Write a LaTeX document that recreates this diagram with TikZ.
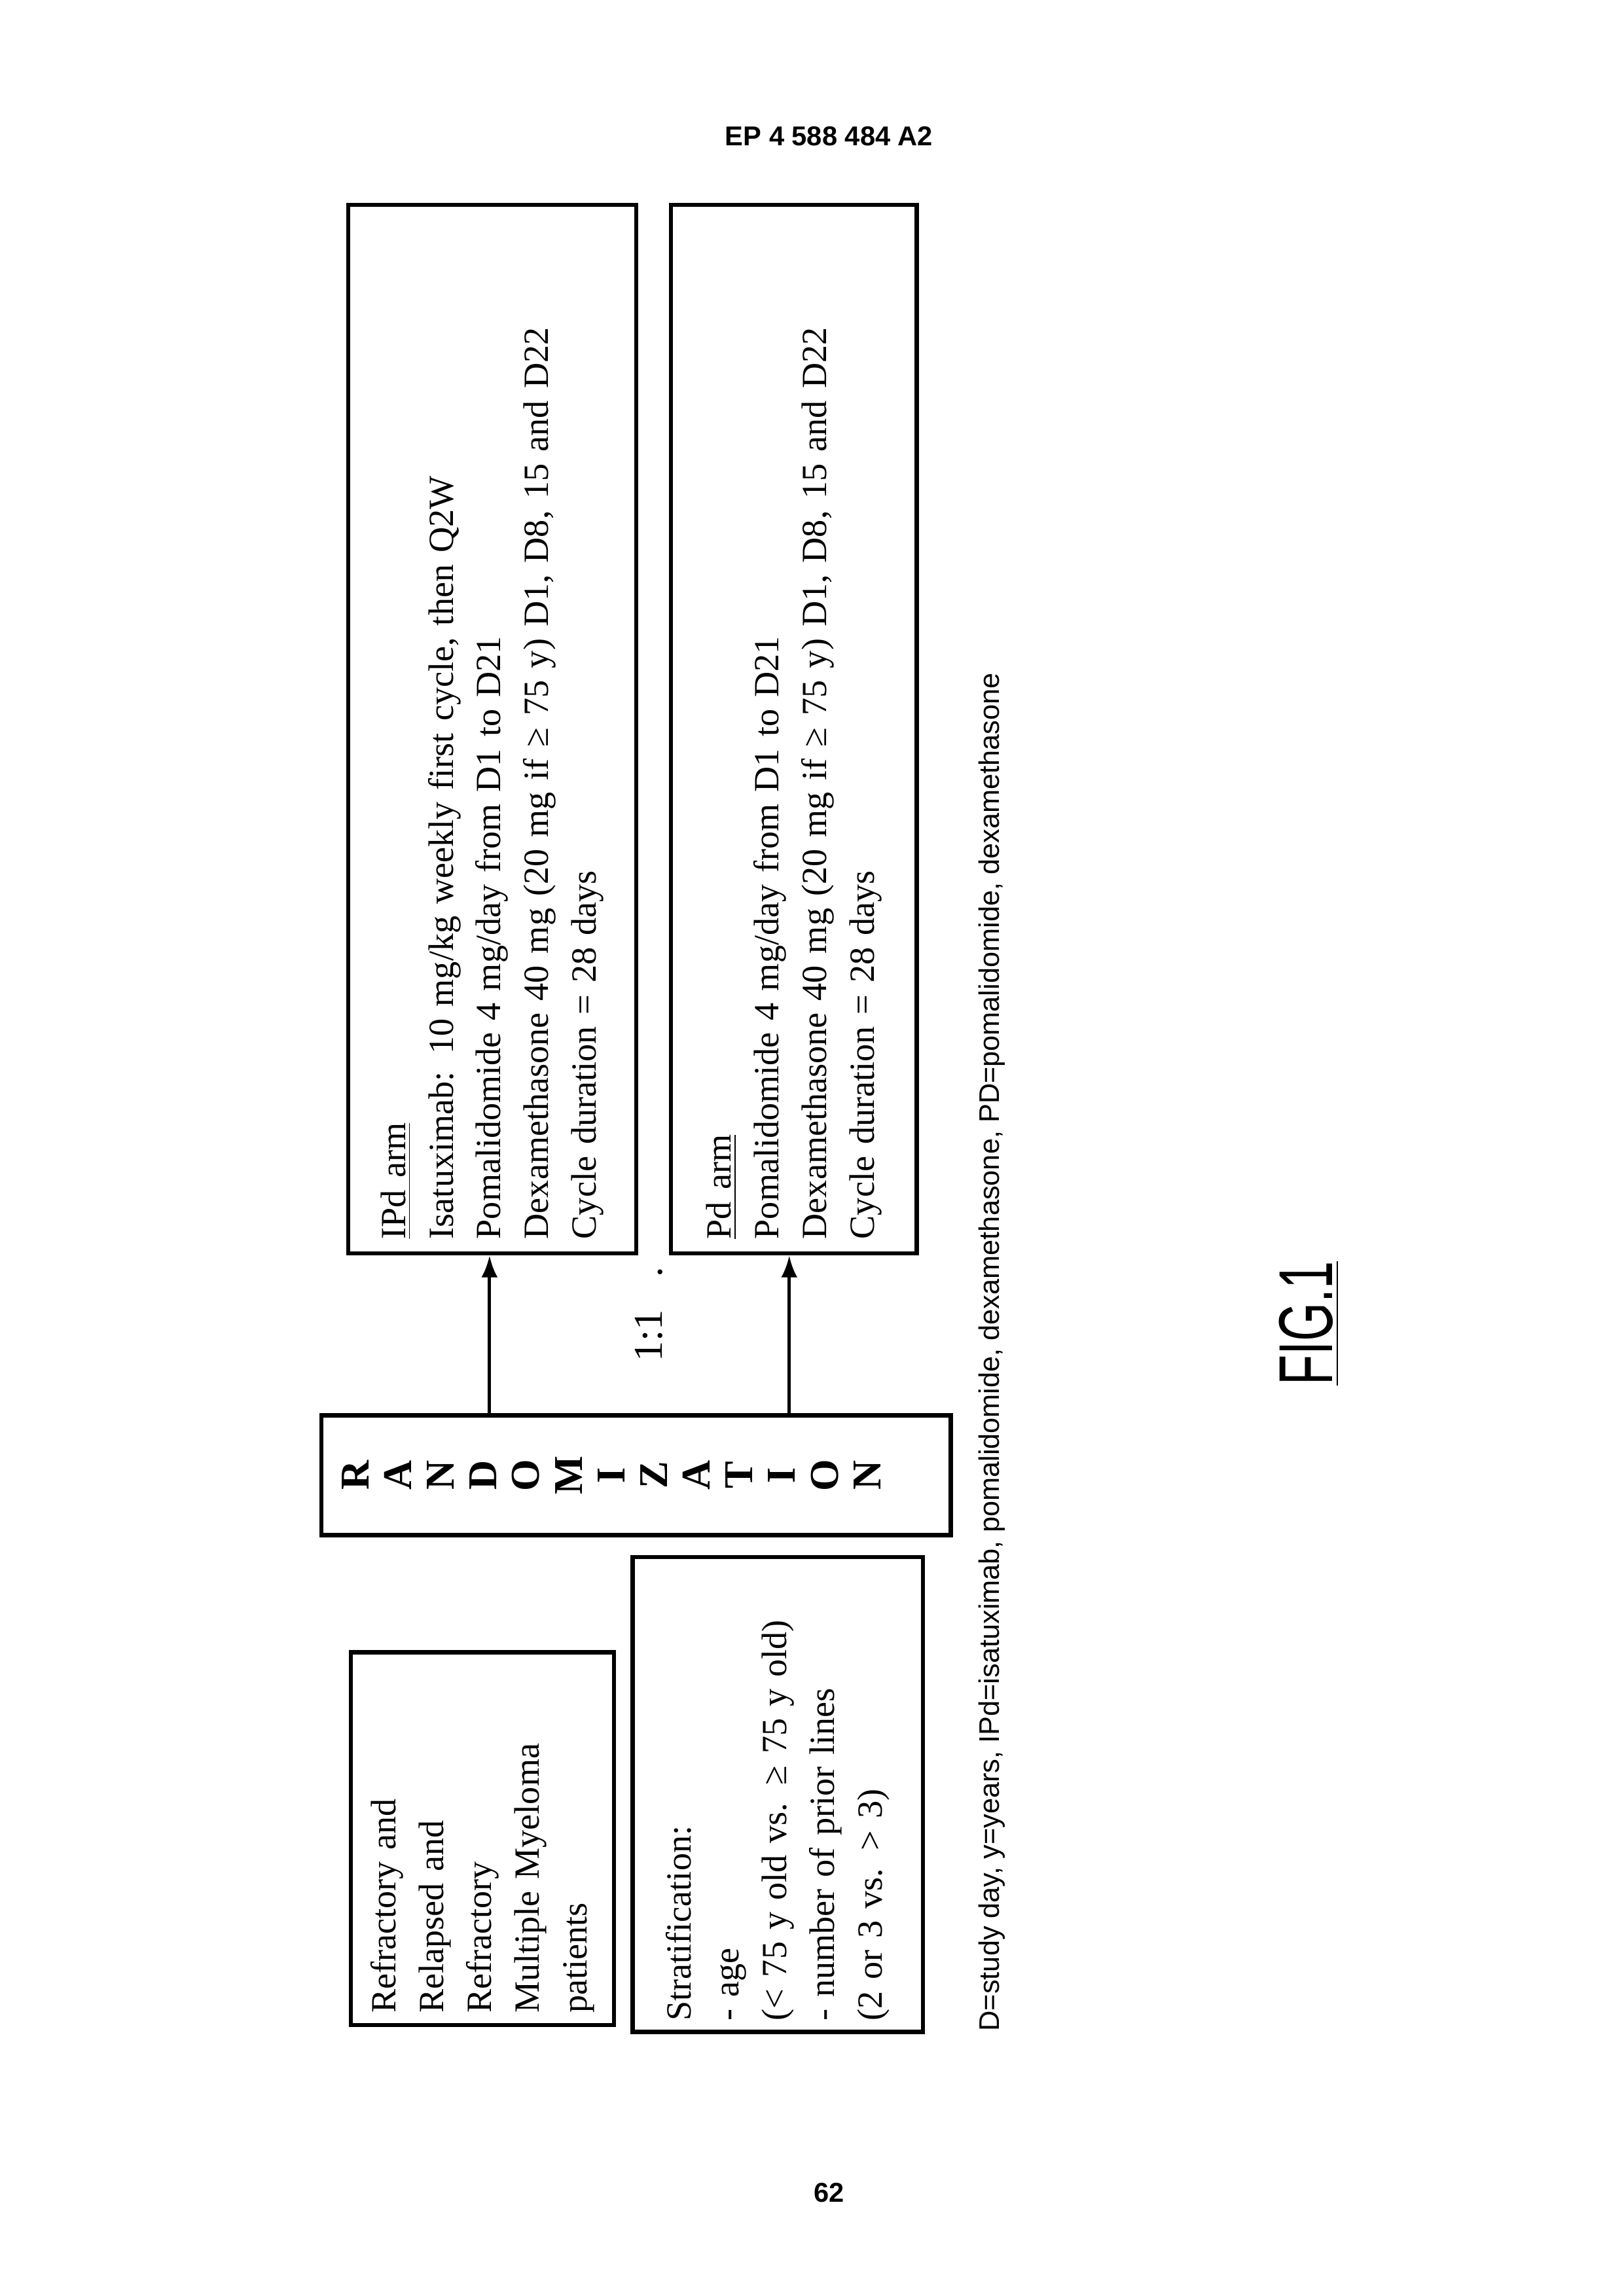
\documentclass[tikz,border=0pt]{standalone}
\usepackage{fontspec}
\usetikzlibrary{arrows.meta}
\setmainfont{Liberation Serif}
\newfontfamily\arialf{Liberation Sans}
\begin{document}
\begin{tikzpicture}[x=1pt,y=-1pt,
  rbox/.style={draw,line width=1.6pt,rotate=90,align=left,inner sep=0pt,font=\fontsize{13}{17.5}\selectfont},
  arr/.style={-{Latex[length=8pt,width=6pt]},line width=1.2pt}]
\useasboundingbox (0,0) rectangle (595.3,842);
\node[font=\arialf\bfseries\fontsize{10}{12}\selectfont] (hdr) at (304,50) {EP 4 588 484 A2};
\node[font=\arialf\bfseries\fontsize{10}{12}\selectfont] (pg) at (304,804) {62};
\node[rbox,minimum width=384.5pt,minimum height=105.6pt,text width=374pt] (ipd) at (180.5,267.4)
{\underline{IPd arm}\\
Isatuximab: 10 mg/kg weekly first cycle, then Q2W\\
Pomalidomide 4 mg/day from D1 to D21\\
Dexamethasone 40 mg (20 mg if ≥ 75 y) D1, D8, 15 and D22\\
Cycle duration = 28 days};
\node[rbox,minimum width=384.5pt,minimum height=90.2pt,text width=374pt] (pd) at (291.1,267.4)
{\underline{Pd arm}\\
Pomalidomide 4 mg/day from D1 to D21\\
Dexamethasone 40 mg (20 mg if ≥ 75 y) D1, D8, 15 and D22\\
Cycle duration = 28 days};
\node[draw,line width=1.6pt,minimum width=230.7pt,minimum height=43.9pt] (rand) at (233.2,541) {};
\foreach \l [count=\i from 0] in {R,A,N,D,O,M,I,Z,A,T,I,O,N}
  \node[rotate=90,font=\bfseries\fontsize{15}{18}\selectfont] (L\i) at (130.3+15.64*\i,541) {\l};
\node[rbox,minimum width=136.6pt,minimum height=96.5pt,text width=128pt] (ref) at (176.9,674.3)
{Refractory and\\Relapsed and\\Refractory\\Multiple Myeloma\\patients};
\node[rbox,minimum width=174.2pt,minimum height=106.4pt,text width=166pt] (strat) at (285.2,658.1)
{Stratification:\\- age\\(< 75 y old vs. ≥ 75 y old)\\- number of prior lines\\(2 or 3 vs. > 3)};
\coordinate (a1) at (179.5,519.1);
\coordinate (a2) at (289.4,519.1);
\draw[arr] (a1) -- (a1 |- ipd.west);
\draw[arr] (a2) -- (a2 |- pd.west);
\node[rotate=90,font=\fontsize{15}{18}\selectfont] (ratio) at (238,482) {1:1\hspace{0.8em}.};
\node[rotate=90,font=\arialf\fontsize{10.4}{13}\selectfont] (fn) at (363.6,495.8)
{D=study day, y=years, IPd=isatuximab, pomalidomide, dexamethasone, PD=pomalidomide, dexamethasone};
\node[rotate=90,font=\arialf\fontsize{28}{34}\selectfont] (fig) at (480,485.3) {\scalebox{0.65}[1]{\underline{FIG.1}}};
\end{tikzpicture}
\end{document}
